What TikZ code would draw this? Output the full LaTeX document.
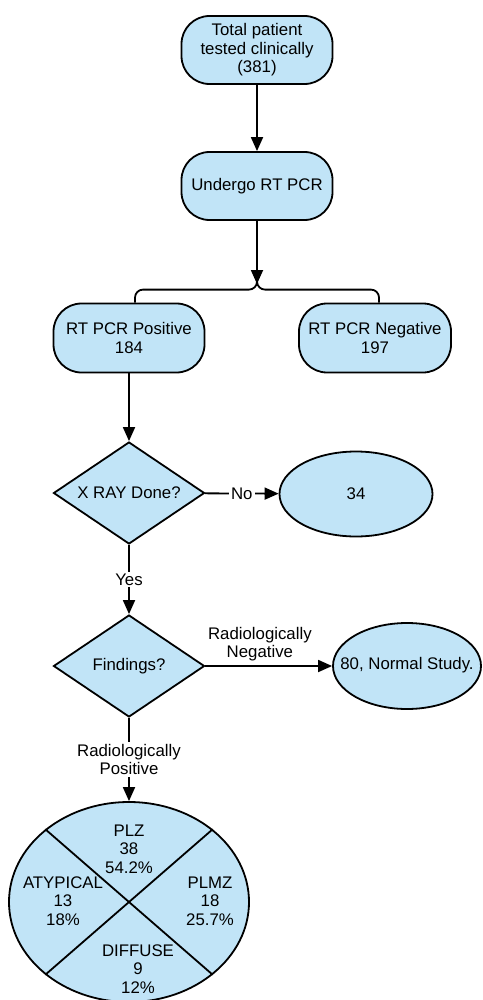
\documentclass[tikz,border=0pt]{standalone}
\usepackage{fontspec}
\setmainfont{Liberation Sans}
\usetikzlibrary{shapes.geometric,arrows.meta}
\definecolor{boxblue}{RGB}{193,228,247}
\begin{document}
\begin{tikzpicture}[x=0.5pt,y=-0.5pt,
  every node/.style={font=\fontsize{8.4pt}{9.3pt}\selectfont},
  pill/.style={draw=black, line width=0.9pt, fill=boxblue, rounded corners=14pt,
    minimum width=75.5pt, minimum height=34pt, align=center, inner sep=0pt},
  decision/.style={draw=black, line width=0.9pt, fill=boxblue, shape=diamond,
    minimum width=75.5pt, minimum height=51pt, inner sep=0pt, aspect=1.5},
  oval/.style={draw=black, line width=0.9pt, fill=boxblue, shape=ellipse,
    inner sep=0pt, align=center},
  arr/.style={line width=0.9pt, -{Triangle[length=7pt,width=6pt]}},
  conn/.style={line width=0.9pt},
  lbl/.style={fill=white, inner sep=1pt, align=center},
  pietext/.style={align=center, inner sep=0pt}
]
\useasboundingbox (0,0) rectangle (482,1000);

\node[pill] (top) at (257,50) {Total patient\\tested clinically\\(381)};
\node[pill] (und) at (257,186) {Undergo RT PCR};
\node[pill, minimum height=34.5pt] (pos) at (129,338) {RT PCR Positive\\184};
\node[pill, minimum height=34.5pt, minimum width=76pt] (neg) at (375,338) {RT PCR Negative\\197};
\node[decision] (xray) at (129,493) {X RAY Done?};
\node[oval, minimum width=76.5pt, minimum height=42.5pt] (n34) at (356,494) {34};
\node[decision] (find) at (129,666) {Findings?};
\node[oval, minimum width=74pt, minimum height=43pt] (norm) at (407,666) {};
\node[pietext] (normtxt) at (407,665) {80, Normal Study.};
\node[oval, minimum width=120pt, minimum height=100pt] (pie) at (129,902) {};
\coordinate (split) at (257,284);

\draw[conn] (pie.41) -- (pie.221);
\draw[conn] (pie.139) -- (pie.319);
\node[pietext] (plz) at (129,849) {PLZ\\38\\54.2\%};
\node[pietext] (aty) at (63,901) {ATYPICAL\\13\\18\%};
\node[pietext] (plmz) at (210,901) {PLMZ\\18\\25.7\%};
\node[pietext] (dif) at (138,969) {DIFFUSE\\9\\12\%};

\draw[arr] (top) -- (und);
\draw[arr] (und) -- (split);
\draw[conn, rounded corners=4pt] (split) |- ([xshift=3pt,yshift=6.5pt]pos.north) -- ([xshift=3pt]pos.north);
\draw[conn, rounded corners=4pt] (split) |- ([xshift=2pt,yshift=6.5pt]neg.north) -- ([xshift=2pt]neg.north);
\draw[arr] (pos) -- (xray);
\draw[arr] (xray) -- node[lbl] {No} (n34);
\draw[arr] (xray) -- node[lbl] {Yes} (find);
\draw[arr] (find) -- node[pos=0.43, above=2pt, align=center, inner sep=0pt] {Radiologically\\Negative} (norm);
\draw[arr] (find) -- node[lbl] {Radiologically\\Positive} (pie);
\end{tikzpicture}
\end{document}
